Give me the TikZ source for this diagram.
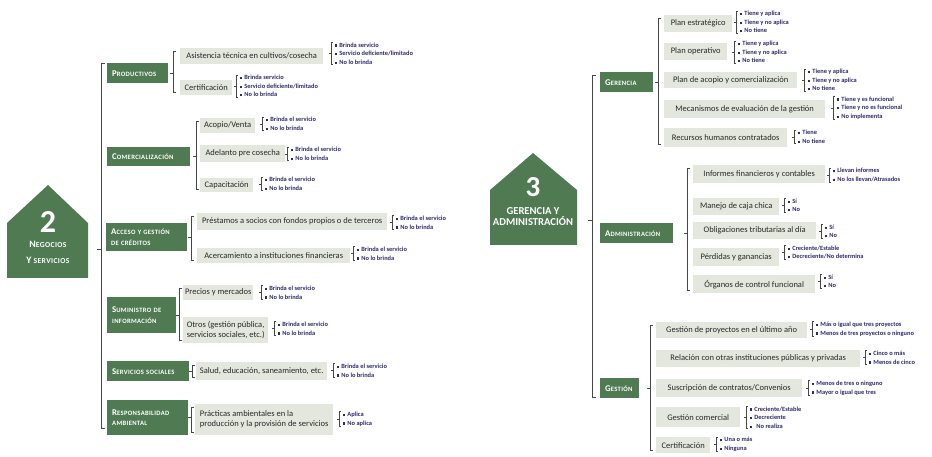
\documentclass[tikz,border=0pt]{standalone}
\usepackage{fontspec}
\setmainfont{Carlito}
\newfontfamily\capsfont[LetterSpace=5]{Carlito}
\usetikzlibrary{calc}

\definecolor{leaf}{RGB}{80,122,82}
\definecolor{itembg}{RGB}{228,231,222}
\definecolor{itemtx}{RGB}{40,40,40}
\definecolor{opttx}{RGB}{45,40,110}
\definecolor{brkc}{RGB}{70,70,70}

% small square bullet for the answer lists
\newcommand\bsq{\rule[0.5pt]{2.2pt}{2.2pt}\hspace{2pt}}
% large initial followed by small capitals
\newcommand\initcap[2]{{\fontsize{8.8}{10.5}\selectfont #1}#2}

\tikzset{
  brk/.style={draw=brkc, line width=0.6pt},
  cat/.style={fill=leaf, text=white, anchor=north west, inner xsep=5pt, inner ysep=0pt,
    align=left, font=\capsfont\bfseries\fontsize{6.6}{10.5}\selectfont},
  itm/.style={fill=itembg, text=itemtx, anchor=north west, inner sep=0pt, align=left,
    font=\fontsize{8.5}{10}\selectfont},
  opt/.style={anchor=west, inner sep=0pt, align=left, text=opttx,
    font=\bfseries\fontsize{6.4}{8.6}\selectfont},
  house/.style={fill=leaf, draw=none},
}

% bracket in front of an answer list
\newcommand\optbrk[1]{%
  \draw[brk] ($(#1.north west)+(-2,0)$) -- ($(#1.north west)+(-4,0)$)
    -- ($(#1.south west)+(-4,0)$) -- ($(#1.south west)+(-2,0)$)
    ($(#1.west)+(-4,0)$) -- ($(#1.west)+(-6,0)$);}
% bracket joining a category to its first..last items; #4 = gap to the items
\newcommand\catbrk[4]{%
  \draw[brk] ($(#2.north west)+(-#4+3,3)$) -- ($(#2.north west)+(-#4,3)$)
    -- ($(#3.south west)+(-#4,-3)$) -- ($(#3.south west)+(-#4+3,-3)$);
  \draw[brk] ($(#2.west |- #1.east)+(-#4,0)$) -- ($(#2.west |- #1.east)+(-#4-3,0)$);}

\begin{document}
\begin{tikzpicture}[x=1pt,y=-1pt]
\useasboundingbox (0,0) rectangle (932,457);

%% ---------------- 2  Negocios y servicios ----------------
\fill[house] (7,223) -- (48,185) -- (88,223) -- (88,278) -- (7,278) -- cycle;
\node[text=white, font=\bfseries\fontsize{32}{32}\selectfont, inner sep=0] (n2) at (48,222) {2};
\node[text=white, font=\capsfont\bfseries\fontsize{7.6}{16}\selectfont, align=center, inner sep=0]
  (n2t) at (48,252) {{\fontsize{9.8}{16}\selectfont N}EGOCIOS\\{\fontsize{9.8}{16}\selectfont Y} SERVICIOS};

\coordinate (lt-top) at (101,63);
\coordinate (lt-bot) at (101,428);
\coordinate (lt-mid) at (101,249);
\draw[brk] ($(lt-top)+(4,0)$) -- (lt-top) -- (lt-bot) -- ($(lt-bot)+(4,0)$);
\draw[brk] (lt-mid) -- ($(lt-mid)+(-4,0)$);

% categories
\node[cat, text width=51pt, minimum height=20pt] (prod) at (107,63) {\initcap{P}{RODUCTIVOS}};
\node[cat, text width=73pt, minimum height=19pt] (com) at (107,147) {\initcap{C}{OMERCIALIZACIÓN}};
\node[cat, text width=71pt, minimum height=28pt] (acc) at (106,223) {\initcap{A}{CCESO Y GESTIÓN}\\DE CRÉDITOS};
\node[cat, text width=59pt, minimum height=36pt] (sum) at (107,297) {\initcap{S}{UMINISTRO DE}\\INFORMACIÓN};
\node[cat, text width=72pt, minimum height=20pt] (soc) at (107,361) {\initcap{S}{ERVICIOS SOCIALES}};
\node[cat, text width=71pt, minimum height=35pt] (resp) at (107,400) {\initcap{R}{ESPONSABILIDAD}\\AMBIENTAL};

% items
\node[itm, minimum width=143pt, minimum height=16pt] (asis) at (180,48) {Asistencia técnica en cultivos/cosecha};
\node[itm, minimum width=52pt, minimum height=15pt] (cert1) at (180,80) {Certificación};
\node[itm, minimum width=55pt, minimum height=15pt] (acop) at (200,118) {Acopio/Venta};
\node[itm, minimum width=85pt, minimum height=17pt] (adel) at (200,145) {Adelanto pre cosecha};
\node[itm, minimum width=53pt, minimum height=14pt] (capa) at (200,178) {Capacitación};
\node[itm, minimum width=190pt, minimum height=17pt] (prest) at (197,213) {Préstamos a socios con fondos propios o de terceros};
\node[itm, minimum width=153pt, minimum height=15pt] (acer) at (197,248) {Acercamiento a instituciones financieras};
\node[itm, minimum width=70pt, minimum height=15pt] (prec) at (183,285) {Precios y mercados};
\node[itm, minimum width=85pt, minimum height=26pt] (otros) at (183,317) {Otros (gestión pública,\\servicios sociales, etc.)};
\node[itm, minimum width=131pt, minimum height=18pt] (salud) at (196,362) {Salud, educación, saneamiento, etc.};
\node[itm, minimum width=138pt, minimum height=31pt] (pract) at (195,404) {Prácticas ambientales en la\\producción y la provisión de servicios};

\catbrk{prod}{asis}{cert1}{7}
\catbrk{com}{acop}{capa}{4}
\catbrk{acc}{prest}{acer}{6}
\catbrk{sum}{prec}{otros}{4}
\catbrk{soc}{salud}{salud}{4}
\catbrk{resp}{pract}{pract}{4}

% answers
\node[opt] (o-asis) at (335,53.5) {\bsq Brinda servicio\\\bsq Servicio deficiente/limitado\\\bsq No lo brinda};
\node[opt] (o-cert1) at (240,86) {\bsq Brinda servicio\\\bsq Servicio deficiente/limitado\\\bsq No lo brinda};
\node[opt] (o-acop) at (266,124) {\bsq Brinda el servicio\\\bsq No lo brinda};
\node[opt] (o-adel) at (291,154) {\bsq Brinda el servicio\\\bsq No lo brinda};
\node[opt] (o-capa) at (265,184) {\bsq Brinda el servicio\\\bsq No lo brinda};
\node[opt] (o-prest) at (396,222.5) {\bsq Brinda el servicio\\\bsq No lo brinda};
\node[opt] (o-acer) at (357,253.5) {\bsq Brinda el servicio\\\bsq No lo brinda};
\node[opt] (o-prec) at (265,292.5) {\bsq Brinda el servicio\\\bsq No lo brinda};
\node[opt] (o-otros) at (278,328.5) {\bsq Brinda el servicio\\\bsq No lo brinda};
\node[opt] (o-salud) at (337,370.5) {\bsq Brinda el servicio\\\bsq No lo brinda};
\node[opt] (o-pract) at (343,419) {\bsq Aplica\\\bsq No aplica};
\foreach \o in {o-asis,o-cert1,o-acop,o-adel,o-capa,o-prest,o-acer,o-prec,o-otros,o-salud,o-pract}
  {\optbrk{\o}}

%% ---------------- 3  Gerencia y administración ----------------
\fill[house] (490,190) -- (533,153) -- (577,190) -- (577,245) -- (490,245) -- cycle;
\node[text=white, font=\bfseries\fontsize{29}{29}\selectfont, inner sep=0] (n3) at (533,187) {3};
\node[text=white, font=\bfseries\fontsize{10.6}{11}\selectfont, align=center, inner sep=0]
  (n3t) at (533,217) {GERENCIA Y\\ADMINISTRACIÓN};

\coordinate (rt-top) at (592,75);
\coordinate (rt-bot) at (592,397);
\coordinate (rt-mid) at (592,220);
\draw[brk] ($(rt-top)+(4,0)$) -- (rt-top) -- (rt-bot) -- ($(rt-bot)+(4,0)$);
\draw[brk] (rt-mid) -- ($(rt-mid)+(-4,0)$);

\node[cat, text width=43pt, minimum height=20pt] (ger) at (600,72) {\initcap{G}{ERENCIA}};
\node[cat, text width=63pt, minimum height=20pt] (adm) at (600,223) {\initcap{A}{DMINISTRACIÓN}};
\node[cat, text width=29pt, minimum height=20pt] (ges) at (600,378) {\initcap{G}{ESTIÓN}};

% Gerencia items
\node[itm, minimum width=68pt, minimum height=17pt] (pe) at (664,15) {Plan estratégico};
\node[itm, minimum width=63pt, minimum height=17pt] (po) at (664,43) {Plan operativo};
\node[itm, minimum width=133pt, minimum height=16pt] (pa) at (664,72) {Plan de acopio y comercialización};
\node[itm, minimum width=161pt, minimum height=18pt] (me) at (664,100) {Mecanismos de evaluación de la gestión};
\node[itm, minimum width=123pt, minimum height=19pt] (rh) at (664,128) {Recursos humanos contratados};
% Administración items
\node[itm, minimum width=132pt, minimum height=18pt] (inf) at (693,165) {Informes financieros y contables};
\node[itm, minimum width=86pt, minimum height=17pt] (caja) at (693,198) {Manejo de caja chica};
\node[itm, minimum width=123pt, minimum height=17pt] (obl) at (693,222) {Obligaciones tributarias al día};
\node[itm, minimum width=86pt, minimum height=18pt] (perd) at (693,248) {Pérdidas y ganancias};
\node[itm, minimum width=122pt, minimum height=18pt] (org) at (693,275) {Órganos de control funcional};
% Gestión items
\node[itm, minimum width=151pt, minimum height=16pt] (gp) at (656,322) {Gestión de proyectos en el último año};
\node[itm, minimum width=204pt, minimum height=17pt] (rel) at (656,350) {Relación con otras instituciones públicas y privadas};
\node[itm, minimum width=146pt, minimum height=18pt] (sus) at (656,379) {Suscripción de contratos/Convenios};
\node[itm, minimum width=84pt, minimum height=20pt] (gc) at (656,407) {Gestión comercial};
\node[itm, minimum width=54pt, minimum height=16pt] (cert2) at (656,437) {Certificación};

\catbrk{ger}{pe}{rh}{6}
\catbrk{adm}{inf}{org}{6}
\catbrk{ges}{gp}{cert2}{6}

\node[opt] (o-pe) at (740,22) {\bsq Tiene y aplica\\\bsq Tiene y no aplica\\\bsq No tiene};
\node[opt] (o-po) at (738,52) {\bsq Tiene y aplica\\\bsq Tiene y no aplica\\\bsq No tiene};
\node[opt] (o-pa) at (808,80) {\bsq Tiene y aplica\\\bsq Tiene y no aplica\\\bsq No tiene};
\node[opt] (o-me) at (837,108) {\bsq Tiene y es funcional\\\bsq Tiene y no es funcional\\\bsq No implementa};
\node[opt] (o-rh) at (798,137) {\bsq Tiene\\\bsq No tiene};
\node[opt] (o-inf) at (833,175) {\bsq Llevan informes\\\bsq No los llevan/Atrasados};
\node[opt] (o-caja) at (788,205.5) {\bsq Sí\\\bsq No};
\node[opt] (o-obl) at (825,231.5) {\bsq Sí\\\bsq No};
\node[opt] (o-perd) at (788,252.5) {\bsq Creciente/Estable\\\bsq Decreciente/No determina};
\node[opt] (o-org) at (824,281.5) {\bsq Sí\\\bsq No};
\node[opt] (o-gp) at (816,329) {\bsq Más o igual que tres proyectos\\\bsq Menos de tres proyectos o ninguno};
\node[opt] (o-rel) at (869,357.5) {\bsq Cinco o más\\\bsq Menos de cinco};
\node[opt] (o-sus) at (812,388) {\bsq Menos de tres o ninguno\\\bsq Mayor o igual que tres};
\node[opt] (o-gc) at (750,417.5) {\bsq Creciente/Estable\\\bsq Decreciente\\\bsq\hspace{2pt}No realiza};
\node[opt] (o-cert2) at (720,444.5) {\bsq Una o más\\\bsq Ninguna};
\foreach \o in {o-pe,o-po,o-pa,o-me,o-rh,o-inf,o-caja,o-obl,o-perd,o-org,o-gp,o-rel,o-sus,o-gc,o-cert2}
  {\optbrk{\o}}
\end{tikzpicture}
\end{document}
